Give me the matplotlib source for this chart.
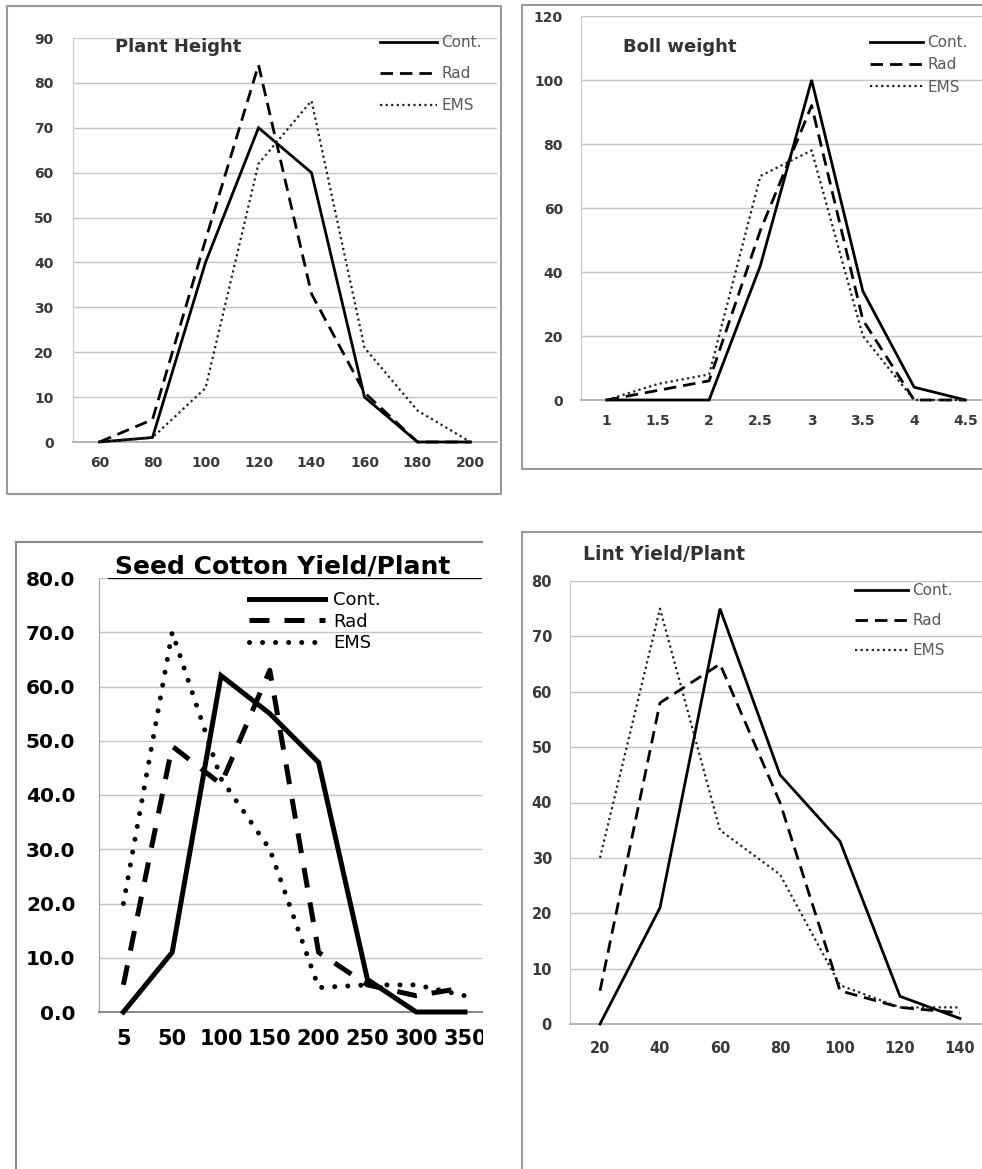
import matplotlib
matplotlib.use("Agg")
import matplotlib.pyplot as plt
from matplotlib.lines import Line2D
from matplotlib.patches import Rectangle

plt.rcParams['font.family'] = ['DejaVu Sans']

# ---------------- data ----------------
ph_x = ['60', '80', '100', '120', '140', '160', '180', '200']
ph_cont = [0, 1, 40, 70, 60, 10, 0, 0]
ph_rad = [0, 5, 45, 84, 33, 11, 0, 0]
ph_ems = [0, 1, 12, 62, 76, 21, 7, 0]

bw_x = ['1', '1.5', '2', '2.5', '3', '3.5', '4', '4.5']
bw_cont = [0, 0, 0, 42, 100, 34, 4, 0]
bw_rad = [0, 3, 6, 53, 92, 25, 0, 0]
bw_ems = [0, 5, 8, 70, 78, 20, 0, 0]

sc_x = ['5', '50', '100', '150', '200', '250', '300', '350']
sc_cont = [0, 11, 62, 55, 46, 6, 0, 0]
sc_rad = [5, 49, 42, 63, 11, 5, 3, 4.5]
sc_ems = [20, 70, 43, 30, 4.5, 5, 5, 3]

ly_x = ['20', '40', '60', '80', '100', '120', '140']
ly_cont = [0, 21, 75, 45, 33, 5, 1]
ly_rad = [6, 58, 65, 40, 6, 3, 2]
ly_ems = [30, 75, 35, 27, 7, 3, 3]

series_names = ['Cont.', 'Rad', 'EMS']

W, H = 982, 1169
fig = plt.figure(figsize=(W / 100, H / 100), dpi=100)
fig.patch.set_facecolor('white')


def fx(px):
    return px / W


def fy(py):
    return 1 - py / H


def add_axes(left, right, top, bottom):
    return fig.add_axes([fx(left), fy(bottom), fx(right) - fx(left), fy(top) - fy(bottom)])


def fig_line(xs, ys, color='#9a9a9a', lw=1.5, z=6):
    fig.add_artist(Line2D([fx(v) for v in xs], [fy(v) for v in ys], color=color, lw=lw,
                          transform=fig.transFigure, zorder=z))


GRID = '#c4c4c4'
TXT = '#3a3a3a'
LEG = '#5a5a5a'


def style_small(ax, cats, ymax, ystep, ypad, xpad, fs=10):
    ax.set_facecolor('white')
    ax.set_xlim(-0.5, len(cats) - 0.5)
    ax.set_ylim(0, ymax)
    ax.set_xticks(range(len(cats)))
    ax.set_xticklabels(cats)
    ax.set_yticks(range(0, ymax + 1, ystep))
    for s in ['top', 'right']:
        ax.spines[s].set_visible(False)
    ax.spines['left'].set_color('#c8c8c8')
    ax.spines['bottom'].set_color('#a8a8a8')
    ax.spines['bottom'].set_linewidth(1.2)
    ax.yaxis.grid(True, color=GRID, lw=1)
    ax.set_axisbelow(True)
    ax.tick_params(axis='both', length=0, labelsize=fs, labelcolor=TXT)
    ax.tick_params(axis='y', pad=ypad)
    ax.tick_params(axis='x', pad=xpad)
    for lab in ax.get_xticklabels() + ax.get_yticklabels():
        lab.set_fontweight('bold')


def plot_three(ax, xs, c, r, e, lw_s=2.0, lw_d=2.0, lw_e=1.6):
    h1, = ax.plot(xs, c, color='black', lw=lw_s, solid_joinstyle='miter', clip_on=False, zorder=4)
    h2, = ax.plot(xs, r, color='black', lw=lw_d, ls=(0, (4.5, 2.5)), clip_on=False, zorder=4)
    h3, = ax.plot(xs, e, color='#202020', lw=lw_e, ls=(0, (1, 1.5)), clip_on=False, zorder=4)
    return [h1, h2, h3]


def small_legend(ax, handles, x, ytop, hl, spacing, fs=11):
    ax.legend(handles, series_names, loc='upper left', bbox_to_anchor=(fx(x), fy(ytop)),
              bbox_transform=fig.transFigure, frameon=False, borderpad=0, borderaxespad=0,
              handlelength=hl, handletextpad=0.3, labelspacing=spacing,
              prop={'size': fs}, labelcolor=LEG)


# ---------------- Panel 1: Plant Height ----------------
ax1 = add_axes(73, 497, 38, 442)
style_small(ax1, ph_x, 90, 10, 14, 10)
h = plot_three(ax1, range(len(ph_x)), ph_cont, ph_rad, ph_ems)
small_legend(ax1, h, 380, 35, 3.7, 1.08)
fig.text(fx(115), fy(47), 'Plant Height', fontsize=13, fontweight='bold', color='#333333',
         va='center', ha='left')

# ---------------- Panel 2: Boll weight ----------------
ax2 = add_axes(581, 991, 16, 400)
style_small(ax2, bw_x, 120, 20, 13, 10)
h = plot_three(ax2, range(len(bw_x)), bw_cont, bw_rad, bw_ems)
small_legend(ax2, h, 870, 35, 3.45, 0.48)
fig.text(fx(623), fy(47), 'Boll weight', fontsize=13, fontweight='bold', color='#333333',
         va='center', ha='left')

# ---------------- Panel 3: Seed Cotton Yield/Plant ----------------
ax3 = add_axes(99, 482, 578, 1012)
ax3.set_facecolor('white')
ax3.set_xlim(-0.5, len(sc_x) - 0.5 - 7.4 / 48.86)
ax3.set_ylim(0, 80)
ax3.set_xticks(range(len(sc_x)))
ax3.set_xticklabels(sc_x)
ax3.set_yticks(range(0, 81, 10))
ax3.set_yticklabels(['%.1f' % v for v in range(0, 81, 10)])
for s in ['top', 'right']:
    ax3.spines[s].set_visible(False)
ax3.spines['left'].set_color('#a0a0a0')
ax3.spines['bottom'].set_color('#8a8a8a')
ax3.spines['bottom'].set_linewidth(1.5)
ax3.yaxis.grid(True, color=GRID, lw=1)
ax3.set_axisbelow(True)
ax3.tick_params(axis='both', length=0, labelcolor='black')
ax3.tick_params(axis='y', pad=17, labelsize=14.5)
ax3.tick_params(axis='x', pad=12, labelsize=15)
for lab in ax3.get_xticklabels() + ax3.get_yticklabels():
    lab.set_fontweight('bold')
ax3.axhline(80, xmin=0.025, xmax=1, color='black', lw=1.6, zorder=1)
xs3 = range(len(sc_x))
g1, = ax3.plot(xs3, sc_cont, color='black', lw=3.6, solid_joinstyle='miter', clip_on=False, zorder=4)
g2, = ax3.plot(xs3, sc_rad, color='black', lw=3.6, ls=(0, (4, 3)), clip_on=False, zorder=4)
g3, = ax3.plot(xs3, sc_ems, color='black', lw=3.6, ls=(0, (0.01, 2.6)),
               dash_capstyle='round', clip_on=False, zorder=4)
ax3.legend([g1, g2, g3], series_names, loc='upper left', bbox_to_anchor=(fx(249), fy(591)),
           bbox_transform=fig.transFigure, frameon=False, borderpad=0, borderaxespad=0,
           handlelength=4.2, handletextpad=0.45, labelspacing=0.2,
           prop={'size': 13}, labelcolor='black')
fig.text(fx(115), fy(567), 'Seed Cotton Yield/Plant', fontsize=18, fontweight='bold',
         color='black', va='center', ha='left')

# ---------------- Panel 4: Lint Yield/Plant ----------------
ax4 = add_axes(570, 990, 581, 1024)
style_small(ax4, ly_x, 80, 10, 13, 12, fs=10.5)
h = plot_three(ax4, range(len(ly_x)), ly_cont, ly_rad, ly_ems)
small_legend(ax4, h, 855, 583, 3.45, 0.98)
fig.text(fx(583), fy(555), 'Lint Yield/Plant', fontsize=13.5, fontweight='bold',
         color='#333333', va='center', ha='left')

# ---------------- panel frames ----------------
# mask cropping of panel 3
fig.add_artist(Rectangle((fx(483), fy(1169)), fx(521) - fx(483), fy(538) - fy(1169),
                         transform=fig.transFigure, facecolor='white', edgecolor='none', zorder=5))
# panel 1 box
fig_line([7, 501, 501, 7, 7], [6, 6, 494, 494, 6])
# panel 2 box
fig_line([990, 522, 522, 990], [5, 5, 469, 469])
# panel 3 frame
fig_line([16, 16], [1169, 542], color='#8a8a8a')
fig_line([16, 482], [542, 542], color='#8a8a8a')
# panel 4 frame
fig_line([522, 522], [1169, 532])
fig_line([522, 982], [532, 532])

fig.savefig('out.png', dpi=100, facecolor='white')
